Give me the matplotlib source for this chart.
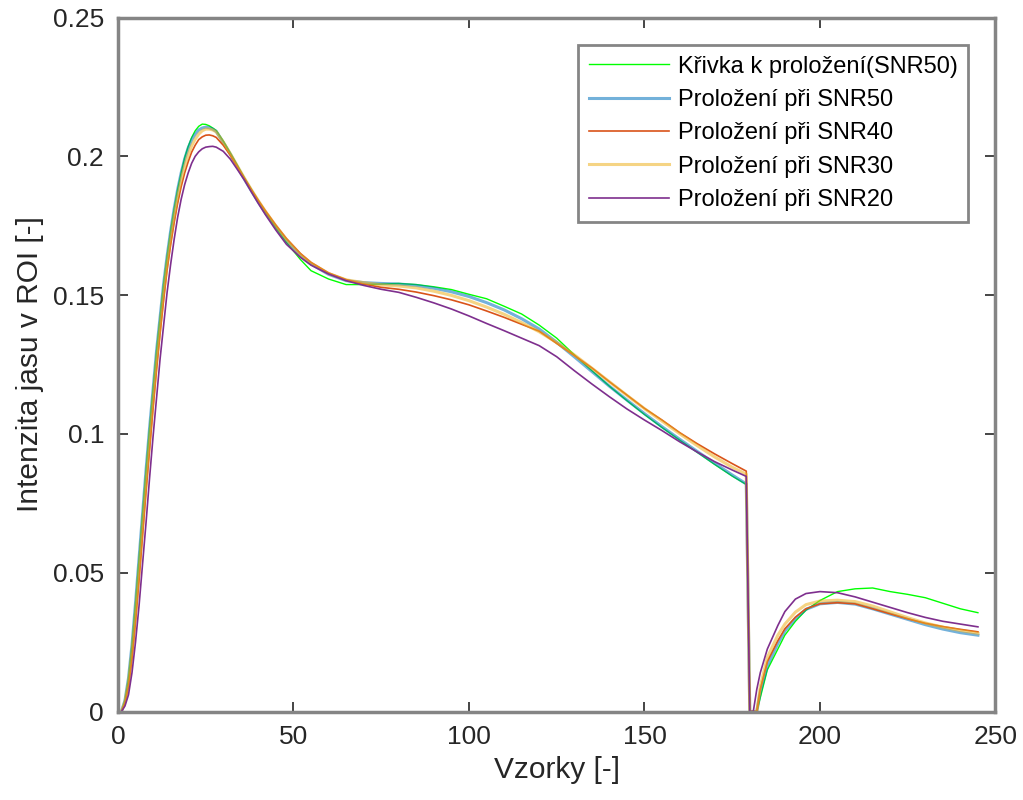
import matplotlib
matplotlib.use("Agg")
import matplotlib.pyplot as plt

plt.rcParams['font.family'] = ['Liberation Sans', 'DejaVu Sans']

# sample index (shared by all curves)
x = [1, 2, 3, 4, 5, 6, 7, 8, 9, 10, 11, 12, 13, 14, 15, 16, 17, 18, 19, 20,
     21, 22, 23, 24, 25, 26, 27, 28, 30, 32, 34, 36, 38, 40, 42, 45, 48, 52, 55,
     60, 65, 70, 75, 80, 85, 90, 95, 100, 105, 110, 115, 120, 125, 130, 135,
     140, 145, 150, 155, 160, 165, 170, 175, 179, 180, 181, 182, 183, 185, 188,
     190, 193, 196, 200, 205, 210, 215, 220, 225, 230, 235, 240, 245]

# measured curve (SNR50)
curve = [0.0, 0.004, 0.012, 0.024, 0.039, 0.055, 0.071, 0.087, 0.102, 0.116,
         0.130, 0.142, 0.154, 0.164, 0.173, 0.181, 0.188, 0.194, 0.1995, 0.2035,
         0.2068, 0.2092, 0.2108, 0.2116, 0.2115, 0.2110, 0.2102, 0.2093, 0.2055, 0.2012,
         0.1968, 0.1922, 0.1880, 0.1838, 0.1798, 0.1742, 0.1690, 0.1628, 0.1588,
         0.1558, 0.1538, 0.1538, 0.1540, 0.1542, 0.1538, 0.1530, 0.1520, 0.1503,
         0.1487, 0.1460, 0.1432, 0.1392, 0.1345, 0.1285, 0.1228,
         0.1172, 0.1120, 0.1070, 0.1023, 0.0978, 0.0934, 0.0890, 0.0848, 0.0818,
         0.0, 0.0, 0.0, 0.005, 0.015, 0.0225,
         0.0275, 0.0325, 0.0365, 0.0400, 0.0432, 0.0442, 0.0445, 0.0432, 0.0422,
         0.0410, 0.0390, 0.0370, 0.0356]

fit50 = [0.0, 0.004, 0.012, 0.024, 0.039, 0.055, 0.071, 0.087, 0.102, 0.116,
         0.130, 0.142, 0.154, 0.164, 0.173, 0.181, 0.188, 0.194, 0.199, 0.203,
         0.206, 0.208, 0.2095, 0.2102, 0.2105, 0.2103, 0.2098, 0.2090, 0.2050, 0.2008,
         0.1962, 0.1918, 0.1876, 0.1835, 0.1797, 0.1744, 0.1695, 0.1641, 0.1612,
         0.1575, 0.1552, 0.1545, 0.1542, 0.1540, 0.1535, 0.1525, 0.1512, 0.1495,
         0.1473, 0.1447, 0.1415, 0.1378, 0.1330, 0.1278, 0.1225,
         0.1172, 0.1122, 0.1073, 0.1026, 0.0981, 0.0937, 0.0894, 0.0852, 0.0820,
         0.0, 0.0, 0.0, 0.007, 0.0165, 0.0245,
         0.0290, 0.0335, 0.0368, 0.0388, 0.0393, 0.0387, 0.0370, 0.0351, 0.0332,
         0.0313, 0.0297, 0.0284, 0.0275]

fit40 = [0.0, 0.003, 0.009, 0.019, 0.032, 0.047, 0.063, 0.079, 0.094, 0.109,
         0.123, 0.136, 0.148, 0.159, 0.168, 0.176, 0.183, 0.189, 0.194, 0.198,
         0.2015, 0.204, 0.206, 0.207, 0.2076, 0.2077, 0.2074, 0.2068, 0.2040, 0.2004,
         0.1963, 0.1921, 0.1880, 0.1841, 0.1804, 0.1752, 0.1704, 0.1650, 0.1618,
         0.1580, 0.1556, 0.1540, 0.1528, 0.1521, 0.1511, 0.1498, 0.1483, 0.1465,
         0.1443, 0.1420, 0.1395, 0.1370, 0.1326, 0.1283, 0.1238,
         0.1188, 0.1140, 0.1092, 0.1050, 0.1005, 0.0965, 0.0928, 0.0893, 0.0866,
         0.0, 0.0, 0.0, 0.008, 0.0180, 0.0255,
         0.0298, 0.0340, 0.0370, 0.0388, 0.0392, 0.0388, 0.0370, 0.0352, 0.0334,
         0.0318, 0.0306, 0.0296, 0.0287]

fit30 = [0.0, 0.0035, 0.0105, 0.0215, 0.0355, 0.051, 0.067, 0.083, 0.098, 0.1125,
         0.1265, 0.139, 0.151, 0.1615, 0.1705, 0.1785, 0.1855, 0.1915, 0.1965, 0.2005,
         0.2038, 0.2062, 0.2080, 0.2092, 0.2098, 0.2098, 0.2095, 0.2088, 0.2052, 0.2010,
         0.1966, 0.1922, 0.1880, 0.1840, 0.1802, 0.1749, 0.1700, 0.1645, 0.1615,
         0.1578, 0.1555, 0.1545, 0.1537, 0.1533, 0.1526, 0.1514, 0.1499, 0.1480,
         0.1457, 0.1431, 0.1401, 0.1368, 0.1329, 0.1285, 0.1237,
         0.1188, 0.1139, 0.1091, 0.1046, 0.1001, 0.0958, 0.0917, 0.0880, 0.0855,
         0.0, 0.0, 0.0, 0.009, 0.0195, 0.0275,
         0.0315, 0.0358, 0.0385, 0.0398, 0.0401, 0.0396, 0.0380, 0.0359, 0.0338,
         0.0319, 0.0304, 0.0292, 0.0282]

fit20 = [0.0, 0.002, 0.006, 0.014, 0.025, 0.038, 0.053, 0.068, 0.084, 0.099,
         0.113, 0.127, 0.139, 0.151, 0.161, 0.170, 0.178, 0.1845, 0.1898, 0.1940,
         0.1975, 0.2000, 0.2016, 0.2027, 0.2033, 0.2035, 0.2036, 0.2033, 0.2018, 0.1990,
         0.1953, 0.1915, 0.1872, 0.1830, 0.1790, 0.1734, 0.1683, 0.1636, 0.1608,
         0.1576, 0.1552, 0.1535, 0.1521, 0.1510, 0.1492, 0.1472, 0.1450, 0.1425,
         0.1398, 0.1372, 0.1345, 0.1318, 0.1278, 0.1228, 0.1180,
         0.1134, 0.1090, 0.1050, 0.1012, 0.0972, 0.0935, 0.0900, 0.0870, 0.0847,
         0.0, 0.0, 0.008, 0.014, 0.0225, 0.0310,
         0.0360, 0.0405, 0.0425, 0.0432, 0.0428, 0.0413, 0.0394, 0.0375, 0.0356,
         0.0339, 0.0325, 0.0315, 0.0305]

labels = ['Křivka k proložení(SNR50)', 'Proložení při SNR50', 'Proložení při SNR40',
          'Proložení při SNR30', 'Proložení při SNR20']

fig = plt.figure(figsize=(10.23, 8), dpi=100)
ax = fig.add_axes([0.1153, 0.1106, 0.8578, 0.8675])

ax.plot(x, curve, color='#00ff00', lw=1.0, label=labels[0])
ax.plot(x, fit50, color='#0072bd', lw=2.2, alpha=0.55, label=labels[1])
ax.plot(x, fit40, color='#d95319', lw=1.2, label=labels[2])
ax.plot(x, fit30, color='#edb120', lw=2.2, alpha=0.55, label=labels[3])
ax.plot(x, fit20, color='#7e2f8e', lw=1.2, label=labels[4])

ax.set_xlim(0, 250)
ax.set_ylim(0, 0.25)
ax.set_xticks([0, 50, 100, 150, 200, 250])
ax.set_yticks([0, 0.05, 0.1, 0.15, 0.2, 0.25])
ax.set_yticklabels(['0', '0.05', '0.1', '0.15', '0.2', '0.25'])
ax.tick_params(direction='in', length=7, width=1.2, color='#262626',
               top=True, right=True, labelsize=19, labelcolor='#262626', pad=10)
for s in ax.spines.values():
    s.set_color('#858585')
    s.set_linewidth(2.5)

ax.set_xlabel('Vzorky [-]', fontsize=21.5, color='#262626', labelpad=5)
ax.set_ylabel('Intenzita jasu v ROI [-]', fontsize=21.5, color='#262626', labelpad=6)

leg = ax.legend(loc='upper right', bbox_to_anchor=(0.9687, 0.9604), fontsize=17,
                frameon=True, fancybox=False, handlelength=3.4, handletextpad=0.35,
                borderpad=0.45, labelspacing=0.48, borderaxespad=0)
leg.get_frame().set_edgecolor('#858585')
leg.get_frame().set_linewidth(2.0)
leg.get_frame().set_alpha(1)

fig.savefig('out.png', dpi=100)
